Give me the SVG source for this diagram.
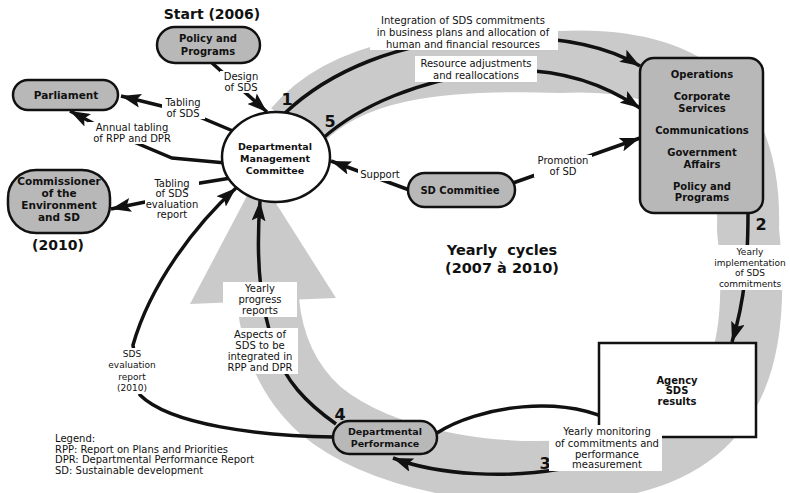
<svg xmlns="http://www.w3.org/2000/svg" width="790" height="493" viewBox="0 0 790 493">
  <style>
    text { font-family: "DejaVu Sans", "Liberation Sans", sans-serif; fill: #111; text-anchor: middle; }
    .n { font-size: 10px; font-weight: bold; }
    .l { font-size: 10px; }
    .s { font-size: 9px; }
    .big { font-size: 14px; font-weight: bold; }
    .num { font-size: 16px; font-weight: bold; }
    .lg { font-size: 10px; text-anchor: start; }
    .pill { fill: #b8b8b8; stroke: #111; stroke-width: 2.5; }
    .wire { fill: none; stroke: #111; stroke-width: 3.5; }
    .bg { fill: #fff; }
  </style>
  <defs>
    <marker id="ah" markerUnits="userSpaceOnUse" markerWidth="20" markerHeight="14" refX="20" refY="7" orient="auto">
      <path d="M0,0 L20,7 L0,14 L4,7 Z" fill="#111"/>
    </marker>
  </defs>

  <rect width="790" height="493" fill="#fff"/>

  <!-- yearly cycle band with its large return arrow -->
  <g id="cycle-band" fill="#cacaca">
    <path d="M295,128 C345,68 440,58 560,62 C690,56 752,110 748,230 C760,340 745,440 620,465 C500,485 380,460 320,410 C290,383 272,345 268,300"
          fill="none" stroke="#cacaca" stroke-width="62"/>
    <polygon points="258,175 336,298 190,304"/>
  </g>

  <!-- connectors -->
  <g id="connectors">
    <path class="wire" d="M212,63 L267,112" marker-end="url(#ah)"/>
    <path class="wire" d="M233,131 L190,113 L121,96" marker-end="url(#ah)"/>
    <path class="wire" d="M226,163 L172,158 L108,131 L70,111" marker-end="url(#ah)"/>
    <path class="wire" d="M231,178 L194,184 L145,202 L111,209" marker-end="url(#ah)"/>
    <path class="wire" d="M412,191 L331,161" marker-end="url(#ah)"/>
    <path class="wire" d="M513,183 L640,138" marker-end="url(#ah)"/>
    <path class="wire" d="M284,114 C330,70 400,42 480,38 C560,34 610,48 640,66" marker-end="url(#ah)"/>
    <path class="wire" d="M322,139 C360,105 420,80 490,72 C560,64 610,88 640,108" marker-end="url(#ah)"/>
    <path class="wire" d="M748,212 C748,260 745,300 732,342" marker-end="url(#ah)"/>
    <path class="wire" d="M437,433 C475,408 565,390 625,428"/>
    <path class="wire" d="M560,469 C510,478 440,476 393,458" marker-end="url(#ah)"/>
    <path class="wire" d="M336,424 C305,402 285,380 275,350 C262,310 255,270 260,201" marker-end="url(#ah)"/>
    <path class="wire" d="M334,437 C260,436 170,425 140,395 L133,345 C150,285 195,225 236,188" marker-end="url(#ah)"/>
  </g>

  <!-- connector labels -->
  <g id="connector-labels">
    <rect class="bg" x="370" y="12" width="188" height="38"/>
    <text class="l" x="463" y="24">Integration of SDS commitments</text>
    <text class="l" x="463" y="36">in business plans and allocation of</text>
    <text class="l" x="463" y="48">human and financial resources</text>

    <rect class="bg" x="415" y="56" width="122" height="26"/>
    <text class="l" x="476" y="67">Resource adjustments</text>
    <text class="l" x="476" y="79">and reallocations</text>

    <rect class="bg" x="220" y="71" width="42" height="22"/>
    <text class="l" x="241" y="80">Design</text>
    <text class="l" x="241" y="91">of SDS</text>

    <rect class="bg" x="162" y="98" width="43" height="21"/>
    <text class="l" x="183" y="106">Tabling</text>
    <text class="l" x="183" y="117">of SDS</text>

    <rect class="bg" x="88" y="122" width="88" height="22"/>
    <text class="l" x="132" y="131">Annual tabling</text>
    <text class="l" x="132" y="142">of RPP and DPR</text>

    <rect class="bg" x="145" y="177" width="54" height="44"/>
    <text class="l" x="172" y="187">Tabling</text>
    <text class="l" x="172" y="197">of SDS</text>
    <text class="l" x="172" y="208">evaluation</text>
    <text class="l" x="172" y="218">report</text>

    <rect class="bg" x="358" y="169" width="44" height="12"/>
    <text class="l" x="380" y="178">Support</text>

    <rect class="bg" x="534" y="155" width="58" height="22"/>
    <text class="l" x="563" y="164">Promotion</text>
    <text class="l" x="563" y="175">of SD</text>

    <rect class="bg" x="718" y="245" width="64" height="45"/>
    <text class="s" x="750" y="255">Yearly</text>
    <text class="s" x="750" y="265.5">implementation</text>
    <text class="s" x="750" y="276">of SDS</text>
    <text class="s" x="750" y="286.5">commitments</text>

    <rect class="bg" x="223" y="282" width="74" height="35"/>
    <text class="l" x="260" y="292">Yearly</text>
    <text class="l" x="260" y="303">progress</text>
    <text class="l" x="260" y="314">reports</text>

    <rect class="bg" x="222" y="328" width="76" height="46"/>
    <text class="l" x="260" y="338">Aspects of</text>
    <text class="l" x="260" y="349">SDS to be</text>
    <text class="l" x="260" y="360">integrated in</text>
    <text class="l" x="260" y="371">RPP and DPR</text>

    <rect class="bg" x="110" y="348" width="45" height="46"/>
    <text class="s" x="132" y="357">SDS</text>
    <text class="s" x="132" y="368">evaluation</text>
    <text class="s" x="132" y="380">report</text>
    <text class="s" x="132" y="391">(2010)</text>

    <text class="num" x="287" y="105">1</text>
    <text class="num" x="330" y="127">5</text>
    <text class="num" x="761" y="230">2</text>
    <text class="num" x="545" y="469">3</text>
    <text class="num" x="340" y="420">4</text>
  </g>

  <!-- nodes -->
  <g id="policy-programs">
    <rect class="pill" x="157" y="27" width="103" height="36" rx="18"/>
    <text class="n" x="208" y="42">Policy and</text>
    <text class="n" x="208" y="55">Programs</text>
  </g>

  <g id="parliament">
    <rect class="pill" x="13" y="80" width="105" height="30" rx="15"/>
    <text class="n" x="66" y="99" style="font-size:10.5px">Parliament</text>
  </g>

  <g id="commissioner">
    <rect class="pill" x="8" y="170" width="102" height="63" rx="28"/>
    <text class="n" x="59" y="185" style="font-size:10.5px">Commissioner</text>
    <text class="n" x="59" y="197" style="font-size:10.5px">of the</text>
    <text class="n" x="59" y="209" style="font-size:10.5px">Environment</text>
    <text class="n" x="59" y="221" style="font-size:10.5px">and SD</text>
  </g>

  <g id="management-committee">
    <ellipse cx="276" cy="157" rx="54" ry="45" fill="#fff" stroke="#111" stroke-width="2.5"/>
    <text class="n" x="275" y="150" style="font-size:9.5px">Departmental</text>
    <text class="n" x="275" y="162" style="font-size:9.5px">Management</text>
    <text class="n" x="275" y="174" style="font-size:9.5px">Committee</text>
  </g>

  <g id="sd-committee">
    <rect class="pill" x="408" y="173" width="107" height="34" rx="17"/>
    <text class="n" x="460" y="194">SD Commitiee</text>
  </g>

  <g id="branches">
    <rect class="pill" x="640" y="58" width="123" height="155" rx="14"/>
    <text class="n" x="702" y="77.5">Operations</text>
    <text class="n" x="702" y="100">Corporate</text>
    <text class="n" x="702" y="112">Services</text>
    <text class="n" x="702" y="133.5">Communications</text>
    <text class="n" x="702" y="156">Government</text>
    <text class="n" x="702" y="168">Affairs</text>
    <text class="n" x="702" y="190">Policy and</text>
    <text class="n" x="702" y="201">Programs</text>
  </g>

  <g id="agency-results">
    <rect x="599" y="343" width="157" height="94" fill="#fff" stroke="#111" stroke-width="2.5"/>
    <text class="n" x="677" y="383.5">Agency</text>
    <text class="n" x="677" y="394">SDS</text>
    <text class="n" x="677" y="405">results</text>
  </g>

  <g id="monitoring-label">
    <rect class="bg" x="549" y="425" width="113" height="46"/>
    <text class="l" x="607" y="435">Yearly monitoring</text>
    <text class="l" x="607" y="447">of commitments and</text>
    <text class="l" x="607" y="457.5">performance</text>
    <text class="l" x="607" y="467.5">measurement</text>
  </g>

  <g id="departmental-performance">
    <rect class="pill" x="333" y="421" width="104" height="33" rx="16.5"/>
    <text class="n" x="385" y="435" style="font-size:9.5px">Departmental</text>
    <text class="n" x="385" y="447" style="font-size:9.5px">Performance</text>
  </g>

  <!-- titles and legend -->
  <g id="titles">
    <text class="big" x="212" y="19">Start (2006)</text>
    <text class="big" x="58" y="250">(2010)</text>
    <text class="big" x="502" y="255" style="font-size:14.5px" xml:space="preserve">Yearly  cycles</text>
    <text class="big" x="502" y="273" style="font-size:14.5px">(2007 à 2010)</text>
  </g>

  <g id="legend">
    <text class="lg" x="55" y="442">Legend:</text>
    <text class="lg" x="55" y="452.5">RPP: Report on Plans and Priorities</text>
    <text class="lg" x="55" y="463">DPR: Departmental Performance Report</text>
    <text class="lg" x="55" y="473.5">SD: Sustainable development</text>
  </g>
</svg>
